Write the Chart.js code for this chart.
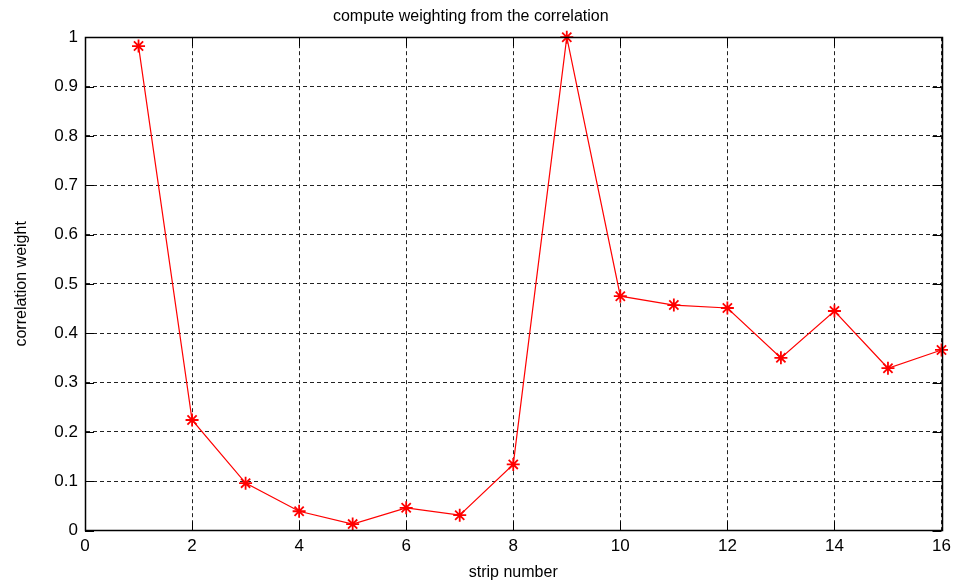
<!DOCTYPE html>
<html>
<head>
<meta charset="utf-8">
<script src="https://cdn.jsdelivr.net/npm/chart.js@4"></script>
<style>
  html, body { margin: 0; padding: 0; background: #fff; }
  #wrap { width: 954px; height: 586px; }
</style>
</head>
<body>
<div id="wrap"><canvas id="c" width="954" height="586"></canvas></div>
<script>
const stripNumbers = [1, 2, 3, 4, 5, 6, 7, 8, 9, 10, 11, 12, 13, 14, 15, 16];
const correlationWeights = [0.982, 0.224, 0.096, 0.039, 0.013, 0.046, 0.031, 0.134, 1.0, 0.475, 0.457, 0.451, 0.350, 0.445, 0.329, 0.366];
const xTicks = [0, 2, 4, 6, 8, 10, 12, 14, 16];
const yTicks = [0, 0.1, 0.2, 0.3, 0.4, 0.5, 0.6, 0.7, 0.8, 0.9, 1];
const titleText = 'compute weighting from the correlation';
const xLabel = 'strip number';
const yLabel = 'correlation weight';

const FONT = '"Liberation Sans", Arial, Helvetica, sans-serif';

const frameAndTicks = {
  id: 'frameAndTicks',
  afterDraw(chart) {
    const { ctx, chartArea: a, scales } = chart;
    ctx.save();
    ctx.strokeStyle = '#000';
    ctx.lineWidth = 1;
    ctx.setLineDash([]);
    const L = 9;
    ctx.beginPath();
    xTicks.forEach(v => {
      const px = Math.round(scales.x.getPixelForValue(v)) + 0.5;
      ctx.moveTo(px, a.bottom); ctx.lineTo(px, a.bottom - L);
      ctx.moveTo(px, a.top); ctx.lineTo(px, a.top + L);
    });
    yTicks.forEach(v => {
      const py = Math.round(scales.y.getPixelForValue(v)) + 0.5;
      ctx.moveTo(a.left, py); ctx.lineTo(a.left + L, py);
      ctx.moveTo(a.right, py); ctx.lineTo(a.right - L, py);
    });
    ctx.stroke();
    ctx.lineWidth = 1.5;
    ctx.strokeRect(Math.round(a.left) + 0.5, Math.round(a.top) + 0.5, Math.round(a.right - a.left), Math.round(a.bottom - a.top));
    ctx.restore();
  }
};

new Chart(document.getElementById('c'), {
  type: 'line',
  data: {
    datasets: [{
      data: stripNumbers.map((s, i) => ({ x: s, y: correlationWeights[i] })),
      borderColor: '#ff0000',
      backgroundColor: '#ff0000',
      borderWidth: 1.2,
      pointStyle: 'star',
      pointRadius: 6.5,
      pointBorderWidth: 1.8,
      pointBorderColor: '#ff0000',
      tension: 0,
      fill: false,
      clip: false
    }]
  },
  options: {
    responsive: false,
    animation: false,
    devicePixelRatio: 1,
    layout: { padding: { left: 0, right: 12.5, top: 0, bottom: 0 } },
    plugins: {
      legend: { display: false },
      tooltip: { enabled: false },
      title: {
        display: true,
        text: titleText,
        color: '#000',
        font: { family: FONT, size: 16, weight: 'normal' },
        padding: { top: 7, bottom: 11 }
      }
    },
    scales: {
      x: {
        type: 'linear',
        min: 0, max: 16,
        afterBuildTicks(scale) { scale.ticks = xTicks.map(v => ({ value: v })); },
        afterFit(scale) { scale.height = 55.5; scale.paddingLeft = 0; scale.paddingRight = 0; },
        ticks: {
          color: '#000',
          font: { family: FONT, size: 17 },
          padding: 6,
          maxRotation: 0,
          callback: v => String(v)
        },
        grid: { color: '#222', lineWidth: 1, drawTicks: false },
        border: { display: true, color: '#000', dash: [4, 3] },
        title: {
          display: true,
          text: xLabel,
          color: '#000',
          font: { family: FONT, size: 16 },
          padding: { top: 2, bottom: 4 }
        }
      },
      y: {
        type: 'linear',
        min: 0, max: 1,
        afterBuildTicks(scale) { scale.ticks = yTicks.map(v => ({ value: v })); },
        afterFit(scale) { scale.width = 85; scale.paddingTop = 0; scale.paddingBottom = 0; },
        ticks: {
          color: '#000',
          font: { family: FONT, size: 17 },
          padding: 7,
          callback: v => String(Math.round(v * 10) / 10)
        },
        grid: { color: '#222', lineWidth: 1, drawTicks: false },
        border: { display: true, color: '#000', dash: [4, 3] },
        title: {
          display: true,
          text: yLabel,
          color: '#000',
          font: { family: FONT, size: 16 },
          padding: { top: 12, bottom: 4 }
        }
      }
    }
  },
  plugins: [frameAndTicks]
});
</script>
</body>
</html>
